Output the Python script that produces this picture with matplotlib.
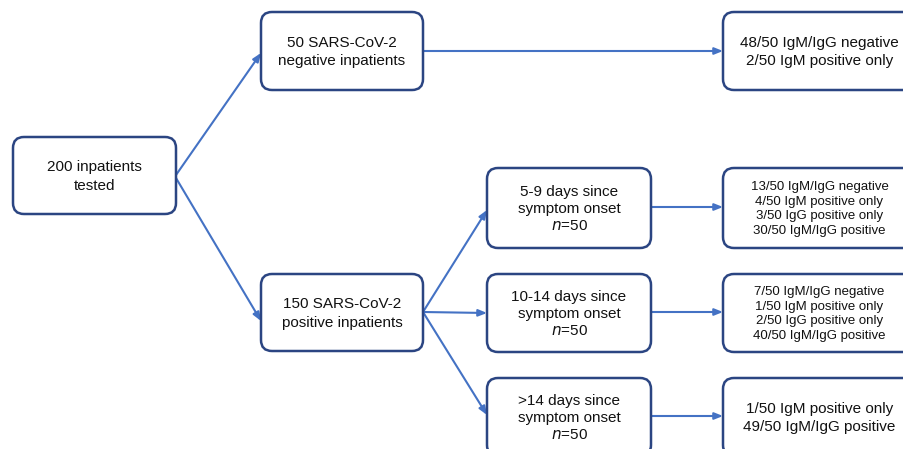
import matplotlib.pyplot as plt
from matplotlib.patches import FancyBboxPatch

plt.rcParams['font.family'] = ['Liberation Sans', 'DejaVu Sans']

# numbers in the flow chart
total_tested = 200
n_negative = 50
n_positive = 150
negative_outcomes = ['48/50 IgM/IgG negative', '2/50 IgM positive only']

onset_groups = ['5-9', '10-14', '>14']
onset_n = [50, 50, 50]
onset_outcomes = [
    ['13/50 IgM/IgG negative', '4/50 IgM positive only',
     '3/50 IgG positive only', '30/50 IgM/IgG positive'],
    ['7/50 IgM/IgG negative', '1/50 IgM positive only',
     '2/50 IgG positive only', '40/50 IgM/IgG positive'],
    ['1/50 IgM positive only', '49/50 IgM/IgG positive'],
]

BORDER = '#2b4582'
ARROW = '#4472c4'

fig = plt.figure(figsize=(9.04, 4.49), dpi=100)
ax = fig.add_axes([0, 0, 1, 1])
ax.set_xlim(0, 904)
ax.set_ylim(449, 0)
ax.axis('off')


def box(x0, y0, x1, y1, text, size=11, spacing=1.38):
    p = FancyBboxPatch((x0, y0), x1 - x0, y1 - y0,
                       boxstyle='round,pad=0,rounding_size=11',
                       fc='white', ec=BORDER, lw=1.8, zorder=2)
    ax.add_patch(p)
    ax.text((x0 + x1) / 2, (y0 + y1) / 2 + 1, text, ha='center', va='center',
            fontsize=size, linespacing=spacing, color='#111111', zorder=3)


def arrow(x0, y0, x1, y1):
    ax.annotate('', xy=(x1, y1), xytext=(x0, y0),
                arrowprops=dict(arrowstyle='-|>,head_length=0.5,head_width=0.2',
                                color=ARROW, lw=1.5, shrinkA=0, shrinkB=0),
                zorder=1)


box(13, 137, 176, 214, f'{total_tested} inpatients\ntested')
box(261, 12, 423, 90, f'{n_negative} SARS-CoV-2\nnegative inpatients')
box(261, 274, 423, 351, f'{n_positive} SARS-CoV-2\npositive inpatients')
box(723, 12, 916, 90, '\n'.join(negative_outcomes))

arrow(176, 175, 261, 53)
arrow(176, 178, 261, 321)
arrow(423, 51, 723, 51)

rows = [(168, 248), (274, 352), (378, 456)]
tips = [210, 313, 415]
for g, n, outs, (y0, y1), tip in zip(onset_groups, onset_n, onset_outcomes, rows, tips):
    box(487, y0, 651, y1, f'{g} days since\nsymptom onset\n$n$={n}', size=11, spacing=1.3)
    if len(outs) > 2:
        box(723, y0, 916, y1, '\n'.join(outs), size=9.5, spacing=1.33)
    else:
        box(723, y0, 916, y1, '\n'.join(outs), size=11)
    arrow(423, 312, 487, tip)
    mid = (y0 + y1) / 2 - 1
    arrow(651, mid, 723, mid)

fig.savefig('out.png', dpi=100, facecolor='white')
